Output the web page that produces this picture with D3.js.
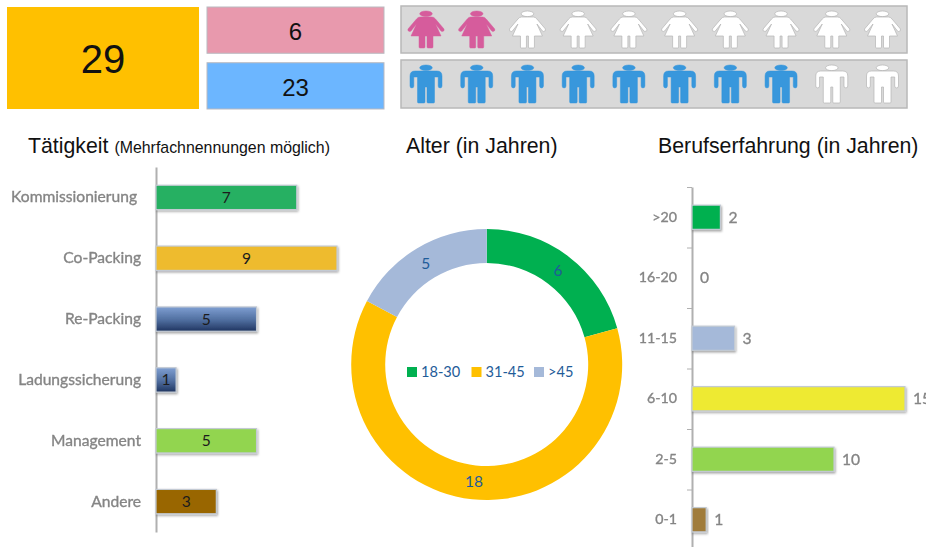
<!DOCTYPE html>
<html>
<head>
<meta charset="utf-8">
<script src="https://cdn.jsdelivr.net/npm/d3@7"></script>
<style>
  html, body { margin: 0; padding: 0; background: #fff; }
  svg { display: block; }
  .head { font-family: "Liberation Sans", Arial, sans-serif; fill: #111; }
  .lab { font-family: Lato, "Open Sans", sans-serif; }
</style>
</head>
<body>
<div id="canvas"></div>
<script>
// counts in the top row
const totalCount = [29];
const genderCounts = [6, 23];
const genderColors = ["#e899ad", "#6cb6ff"];
const iconSlots = d3.range(10);
const femaleFilled = 2;
const maleFilled = 8;

// Taetigkeit
const jobCats = ["Kommissionierung\u00a0", "Co-Packing", "Re-Packing", "Ladungssicherung", "Management", "Andere"];
const jobVals = [7, 9, 5, 1, 5, 3];
const jobColors = ["#27b062", "#eebb2e", "url(#blueGrad)", "url(#blueGrad)", "#92d550", "#996600"];

// Alter
const ageCats = ["18-30", "31-45", ">45"];
const ageVals = [6, 18, 5];
const ageColors = ["#00b050", "#ffc000", "#a5b9d9"];

// Berufserfahrung
const expCats = [">20", "16-20", "11-15", "6-10", "2-5", "0-1"];
const expVals = [2, 0, 3, 15, 10, 1];
const expColors = ["#00b050", "#a5b9d9", "#a5b9d9", "#eeea33", "#92d550", "#a07c3a"];

const width = 926;
const height = 547;
const femalePath = "M-6,6 L6,6 Q8,6 9.5,8 L18,18 Q18.8,20.3 16,20.5 L15,20 L9.5,13 L15,25 L7,25 L7,36 Q7,37 6,37 L2,37 Q1,37 1,36 L1,25 L-1,25 L-1,36 Q-1,37 -2,37 L-6,37 Q-7,37 -7,36 L-7,25 L-15,25 L-9.5,13 L-15,20 L-16,20.5 Q-18.8,20.3 -18,18 L-9.5,8 Q-8,6 -6,6 Z";
const malePath = "M-11,6 H11 Q16,6 16,11 V21 A1.9,1.9 0 0 1 12.2,21 V12 H8.5 V37 Q8.5,38 7.5,38 H2 Q1,38 1,37 V22 H-1 V37 Q-1,38 -2,38 H-7.5 Q-8.5,38 -8.5,37 V12 H-12.2 V21 A1.9,1.9 0 0 1 -16,21 V11 Q-16,6 -11,6 Z";

let svg = d3.select("#canvas")
    .append("svg")
    .attr("width", width)
    .attr("height", height);

let defs = svg.append("defs");
let grad = defs.append("linearGradient")
    .attr("id", "blueGrad")
    .attr("x1", 0).attr("y1", 0).attr("x2", 0).attr("y2", 1);
grad.append("stop").attr("offset", "0%").attr("stop-color", "#7f9fd2");
grad.append("stop").attr("offset", "55%").attr("stop-color", "#4f6d9e");
grad.append("stop").attr("offset", "100%").attr("stop-color", "#1f3560");
let shadow = defs.append("filter")
    .attr("id", "barShadow")
    .attr("x", "-10%").attr("y", "-20%").attr("width", "125%").attr("height", "150%");
shadow.append("feDropShadow")
    .attr("dx", 1).attr("dy", 1.5).attr("stdDeviation", 1)
    .attr("flood-color", "#000").attr("flood-opacity", 0.35);
defs.append("filter").attr("id", "soft")
    .append("feGaussianBlur").attr("stdDeviation", 0.4);

// top row boxes
svg.append("rect")
    .attr("x", 7).attr("y", 7).attr("width", 192).attr("height", 102)
    .style("fill", "#ffc000");
svg.append("text")
    .attr("class", "head")
    .attr("x", 103).attr("y", 72.5)
    .attr("text-anchor", "middle")
    .style("font-size", "40px")
    .text(totalCount[0]);

let boxY = d3.scaleBand().domain(genderCounts).range([7, 109]).paddingInner(0.17);
genderCounts.forEach(function(d, i) {
    svg.append("rect")
        .attr("x", 207).attr("y", boxY(d))
        .attr("width", 177).attr("height", boxY.bandwidth())
        .style("fill", genderColors[i])
        .style("stroke", "#b9b9c0").style("stroke-width", 1);
    svg.append("text")
        .attr("class", "head")
        .attr("x", 295.5).attr("y", boxY(d) + 33)
        .attr("text-anchor", "middle")
        .style("font-size", "24px")
        .text(d);
});

// icon rows
let iconX = d3.scalePoint().domain(iconSlots).range([426, 882.5]);
function iconRow(top, panelY, panelH, path, filled, color) {
    svg.append("rect")
        .attr("x", 401).attr("y", panelY).attr("width", 506).attr("height", panelH)
        .style("fill", "#d9d9d9")
        .style("stroke", "#b8b8b8").style("stroke-width", 1.5);
    let icons = svg.append("g").attr("filter", "url(#soft)")
        .selectAll("g").data(iconSlots).join("g")
        .attr("transform", d => `translate(${iconX(d)},${top})`)
        .style("fill", d => d < filled ? color : "#fff")
        .style("stroke", d => d < filled ? color : "#b5b5b5")
        .style("stroke-width", d => d < filled ? 0.5 : 0.7);
    icons.append("ellipse")
        .attr("cx", 0).attr("cy", 2.8).attr("rx", 6.3).attr("ry", 2.8);
    icons.append("path").attr("d", path);
}
iconRow(11, 6, 47, femalePath, femaleFilled, "#d65c9c");
iconRow(65, 60, 48, malePath, maleFilled, "#3797dc");

// titles
let t1 = svg.append("text").attr("class", "head").attr("x", 28).attr("y", 152.5);
t1.append("tspan").style("font-size", "21.3px").text("Tätigkeit ");
t1.append("tspan").style("font-size", "15.9px").text("(Mehrfachnennungen möglich)");
svg.append("text").attr("class", "head")
    .attr("x", 406).attr("y", 152.5).style("font-size", "21.3px").text("Alter (in Jahren)");
svg.append("text").attr("class", "head")
    .attr("x", 658).attr("y", 152.5).style("font-size", "21.3px").text("Berufserfahrung (in Jahren)");

// bar chart helper, both side charts go through this
function barChart(cats, vals, colors, xScale, yScale, x0, labelSize) {
    let axis = svg.append("g")
        .attr("transform", `translate(${x0},0)`)
        .call(d3.axisLeft(yScale).tickSize(0).tickPadding(15));
    axis.select(".domain").style("stroke", "#b0b0b0").style("stroke-width", 2);
    axis.selectAll("text")
        .attr("class", "lab")
        .attr("filter", "url(#soft)")
        .style("font-size", labelSize)
        .style("fill", "#858585")
        .style("stroke", "#858585")
        .style("stroke-width", 0.35);
    svg.append("g")
        .selectAll("rect")
        .data(cats.filter((c, i) => vals[i] > 0))
        .join("rect")
        .attr("x", x0)
        .attr("y", d => yScale(d))
        .attr("width", d => xScale(vals[cats.indexOf(d)]) - x0)
        .attr("height", yScale.bandwidth())
        .attr("filter", "url(#barShadow)")
        .style("fill", d => colors[cats.indexOf(d)])
        .style("stroke", "#c3cad3")
        .style("stroke-width", 1.2);
}

// Taetigkeit chart
let jobX = d3.scaleLinear().domain([0, 9]).range([156, 337]);
let jobY = d3.scaleBand().domain(jobCats).range([167, 532]).paddingInner(0.6).paddingOuter(0.3);
barChart(jobCats, jobVals, jobColors, jobX, jobY, jobX(0), "15.6px");
svg.append("g").selectAll("text").data(jobCats).join("text")
    .attr("class", "lab")
    .attr("x", (d, i) => (jobX(0) + jobX(jobVals[i])) / 2)
    .attr("y", d => jobY(d) + jobY.bandwidth() / 2 + 5.5)
    .attr("text-anchor", "middle")
    .style("font-size", "15.6px")
    .style("fill", "#1c1c1c")
    .text((d, i) => jobVals[i]);

// Alter donut
let pie = d3.pie().sort(null).value(d => d);
let arc = d3.arc().innerRadius(101.5).outerRadius(135.5);
let labelArc = d3.arc().innerRadius(118).outerRadius(118);
let donut = svg.append("g").attr("transform", "translate(486.7,364.5)");
donut.selectAll("path").data(pie(ageVals)).join("path")
    .attr("d", arc)
    .style("fill", (d, i) => ageColors[i]);
donut.selectAll("text").data(pie(ageVals)).join("text")
    .attr("class", "lab")
    .attr("transform", d => `translate(${labelArc.centroid(d)})`)
    .attr("text-anchor", "middle")
    .attr("dy", "0.36em")
    .style("font-size", "15.5px")
    .style("fill", "#1f5c99")
    .text(d => d.value);

// legend in the donut hole
let legendX = d3.scaleOrdinal().domain(ageCats).range([407, 471.5, 534]);
let legend = svg.append("g").selectAll("g").data(ageCats).join("g")
    .attr("transform", d => `translate(${legendX(d)},367)`);
legend.append("rect")
    .attr("width", 10).attr("height", 10)
    .style("fill", (d, i) => ageColors[i]);
legend.append("text")
    .attr("class", "lab")
    .attr("x", 14).attr("y", 9.5)
    .style("font-size", "14.6px")
    .style("fill", "#1f5c99")
    .text(d => d);

// Berufserfahrung chart
let expX = d3.scaleLinear().domain([0, 15]).range([692, 905]);
let expY = d3.scaleBand().domain(expCats).range([187, 550]).paddingInner(0.6).paddingOuter(0.3);
barChart(expCats, expVals, expColors, expX, expY, expX(0), "14.2px");
svg.append("g").selectAll("line").data(expCats).join("line")
    .attr("x1", expX(0) - 5).attr("x2", expX(0))
    .attr("y1", d => expY(d) - expY.step() * 0.3 + 0.5)
    .attr("y2", d => expY(d) - expY.step() * 0.3 + 0.5)
    .style("stroke", "#b0b0b0").style("stroke-width", 1);
svg.append("g").selectAll("text").data(expCats).join("text")
    .attr("class", "lab")
    .attr("filter", "url(#soft)")
    .attr("x", (d, i) => expX(expVals[i]) + 8)
    .attr("y", d => expY(d) + expY.bandwidth() / 2 + 5.5)
    .style("font-size", "15.6px")
    .style("fill", "#858585")
    .style("stroke", "#858585")
    .style("stroke-width", 0.35)
    .text((d, i) => expVals[i]);
</script>
</body>
</html>
